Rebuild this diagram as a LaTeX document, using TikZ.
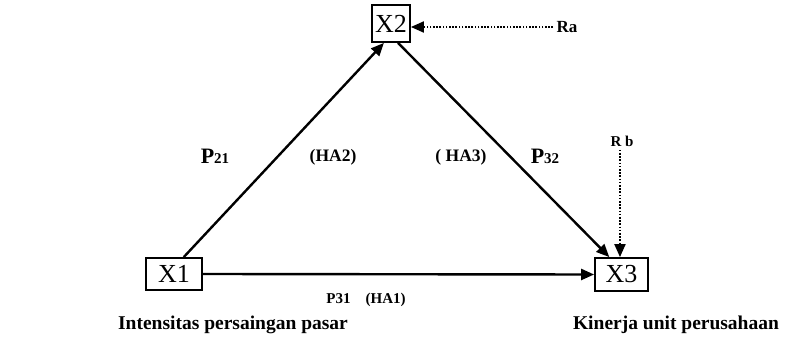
\documentclass[tikz,border=0pt]{standalone}
\usepackage{fontspec}
\setmainfont{Liberation Serif}
\usetikzlibrary{arrows.meta,positioning,calc}

\begin{document}
\begin{tikzpicture}[
    x=1pt, y=-1pt,
    >={Triangle[length=13pt,width=11pt]},
    var/.style={draw, line width=1.8pt, inner sep=0pt,
                font=\fontsize{26}{28}\selectfont},
    path/.style={->, line width=2.4pt},
    resid/.style={->, line width=2pt, dash pattern=on 1.6pt off 1.6pt},
    coef/.style={font=\bfseries\fontsize{22}{24}\selectfont},
    hyp/.style={font=\bfseries\fontsize{17.5}{19}\selectfont},
    caption/.style={font=\bfseries\fontsize{19.5}{22}\selectfont},
]
\useasboundingbox (0,0) rectangle (801,339);

% =====================================================================
% variables
% =====================================================================
\node[var, minimum width=56pt, minimum height=32pt] (x1) at (174,274) {X1};
\node[var, minimum width=38pt, minimum height=37pt] (x2) at (391,23.5) {X2};
\node[var, minimum width=53pt, minimum height=33pt] (x3) at (621.5,274.5) {X3};

\node[caption] (lx1) at (233,325) {Intensitas persaingan pasar};
\node[caption] (lx3) at (676,325) {Kinerja unit perusahaan};

% residuals
\node[font=\bfseries\fontsize{17}{19}\selectfont, anchor=west] (ra) at (553,27) {Ra};
\node[font=\bfseries\fontsize{15}{17}\selectfont] (rb) at (622,141) {R b};

% =====================================================================
% paths
% =====================================================================
\draw[path] (x1.60) -- (x2.250);
\draw[path] (x2.290) -- (x3.125);
\draw[path] (x1.east) -- (x3.west);

\draw[resid] (ra.west) -- (ra.west -| x2.east);
\draw[resid] (rb.south -| x3.95) -- (x3.95);

% coefficient labels
\node[coef] (p21) at (215,156) {P\fontsize{15}{17}\selectfont21};
\node[hyp] (ha2) at (333,157) {(HA2)};
\node[hyp] (ha3) at (461,157) {( HA3)};
\node[coef] (p32) at (545,156) {P\fontsize{15}{17}\selectfont32};
\node[hyp, font=\bfseries\fontsize{15}{17}\selectfont] (p31) at (366,300) {P31\quad(HA1)};

\end{tikzpicture}
\end{document}
